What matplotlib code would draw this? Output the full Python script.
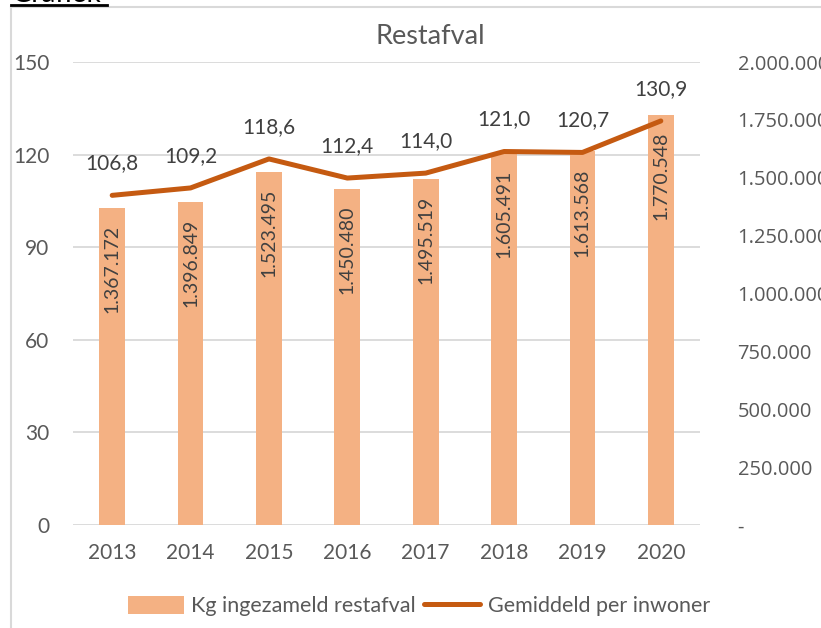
import matplotlib
matplotlib.use("Agg")
import matplotlib.pyplot as plt
from matplotlib.lines import Line2D
from matplotlib.patches import Patch

years = ["2013", "2014", "2015", "2016", "2017", "2018", "2019", "2020"]
kg_restafval = [1367172, 1396849, 1523495, 1450480, 1495519, 1605491, 1613568, 1770548]
per_inwoner = [106.8, 109.2, 118.6, 112.4, 114.0, 121.0, 120.7, 130.9]
left_ticks = [0, 30, 60, 90, 120, 150]
right_ticks = [0, 250000, 500000, 750000, 1000000, 1250000, 1500000, 1750000, 2000000]

BAR = "#F4B183"
LINE = "#C55A11"
TXT = "#595959"
GRID = "#D9D9D9"
FONT = ["Lato", "DejaVu Sans"]

def nl(v):
    return f"{v:,.0f}".replace(",", ".")

W, H = 821, 628
fig = plt.figure(figsize=(W / 100, H / 100), dpi=100)

# chart border (light gray, left and top)
fig.add_artist(Line2D([11 / W, 11 / W], [0, 1 - 7 / H], color=GRID, lw=1.5))
fig.add_artist(Line2D([11 / W, 1], [1 - 7 / H, 1 - 7 / H], color=GRID, lw=1.5))

# partially cut "Grafiek" heading
fig.text(12 / W, 1 - 2 / H, "Grafiek", fontsize=20, family=FONT, color="black",
         ha="left", va="baseline")
fig.add_artist(Line2D([11 / W, 107 / W], [1 - 4.5 / H, 1 - 4.5 / H], color="black", lw=2))

L, R, T, B = 73, 700, 62, 525
ax = fig.add_axes([L / W, (H - B) / H, (R - L) / W, (B - T) / H])
ax2 = ax.twinx()

x = list(range(len(years)))
# bars on secondary (right) axis
ax2.bar(x, kg_restafval, width=0.33, color=BAR, zorder=2)
ax2.set_ylim(0, 2000000)
ax2.set_yticks(right_ticks)
ax2.set_yticklabels(["-"] + [nl(v) for v in right_ticks[1:]], family=["Open Sans", "DejaVu Sans"],
                    fontsize=14.5, color=TXT, ha="left")
ax2.tick_params(axis="y", length=0, pad=27)
for xi, v in zip(x, kg_restafval):
    ax2.annotate(nl(v), (xi, v), xytext=(0, -12), textcoords="offset points",
                 rotation=90, ha="center", va="top", fontsize=14, family=FONT, color="#404040")

# line on primary (left) axis -> draw on top
ax.set_zorder(ax2.get_zorder() + 1)
ax.patch.set_visible(False)
ax.plot(x, per_inwoner, color=LINE, lw=3.6, solid_capstyle="round", zorder=3)
for xi, v in zip(x, per_inwoner):
    ax.annotate(f"{v:.1f}".replace(".", ","), (xi, v), xytext=(0, 23), textcoords="offset points",
                ha="center", va="center", fontsize=15, family=FONT, color="#404040")
ax.set_ylim(0, 150)
ax.set_xlim(-0.5, len(years) - 0.5)
ax.set_yticks(left_ticks)
ax.set_yticklabels([str(t) for t in left_ticks], family=FONT, fontsize=15, color=TXT)
ax.tick_params(axis="y", length=0, pad=17)
ax.set_xticks(x)
ax.set_xticklabels(years, family=FONT, fontsize=15, color=TXT)
ax.tick_params(axis="x", length=0, pad=13)

for t in left_ticks:
    ax2.axhline(t / 150 * 2000000, color=GRID, lw=1.3, zorder=0)

for a in (ax, ax2):
    for s in a.spines.values():
        s.set_visible(False)

fig.text(430 / W, 1 - 37 / H, "Restafval", fontsize=19.5, family=FONT, color=TXT,
         ha="center", va="center")

handles = [Patch(facecolor=BAR, edgecolor="none"),
           Line2D([0], [0], color=LINE, lw=3.6, solid_capstyle="round")]
fig.legend(handles, ["Kg ingezameld restafval", "Gemiddeld per inwoner"],
           loc="center", bbox_to_anchor=(419 / W, 1 - 606 / H), ncol=2, frameon=False,
           prop={"family": FONT, "size": 15.5}, labelcolor=TXT, handlelength=2.6,
           handleheight=0.9, handletextpad=0.35, columnspacing=0.4)

fig.savefig("out.png", dpi=100)
